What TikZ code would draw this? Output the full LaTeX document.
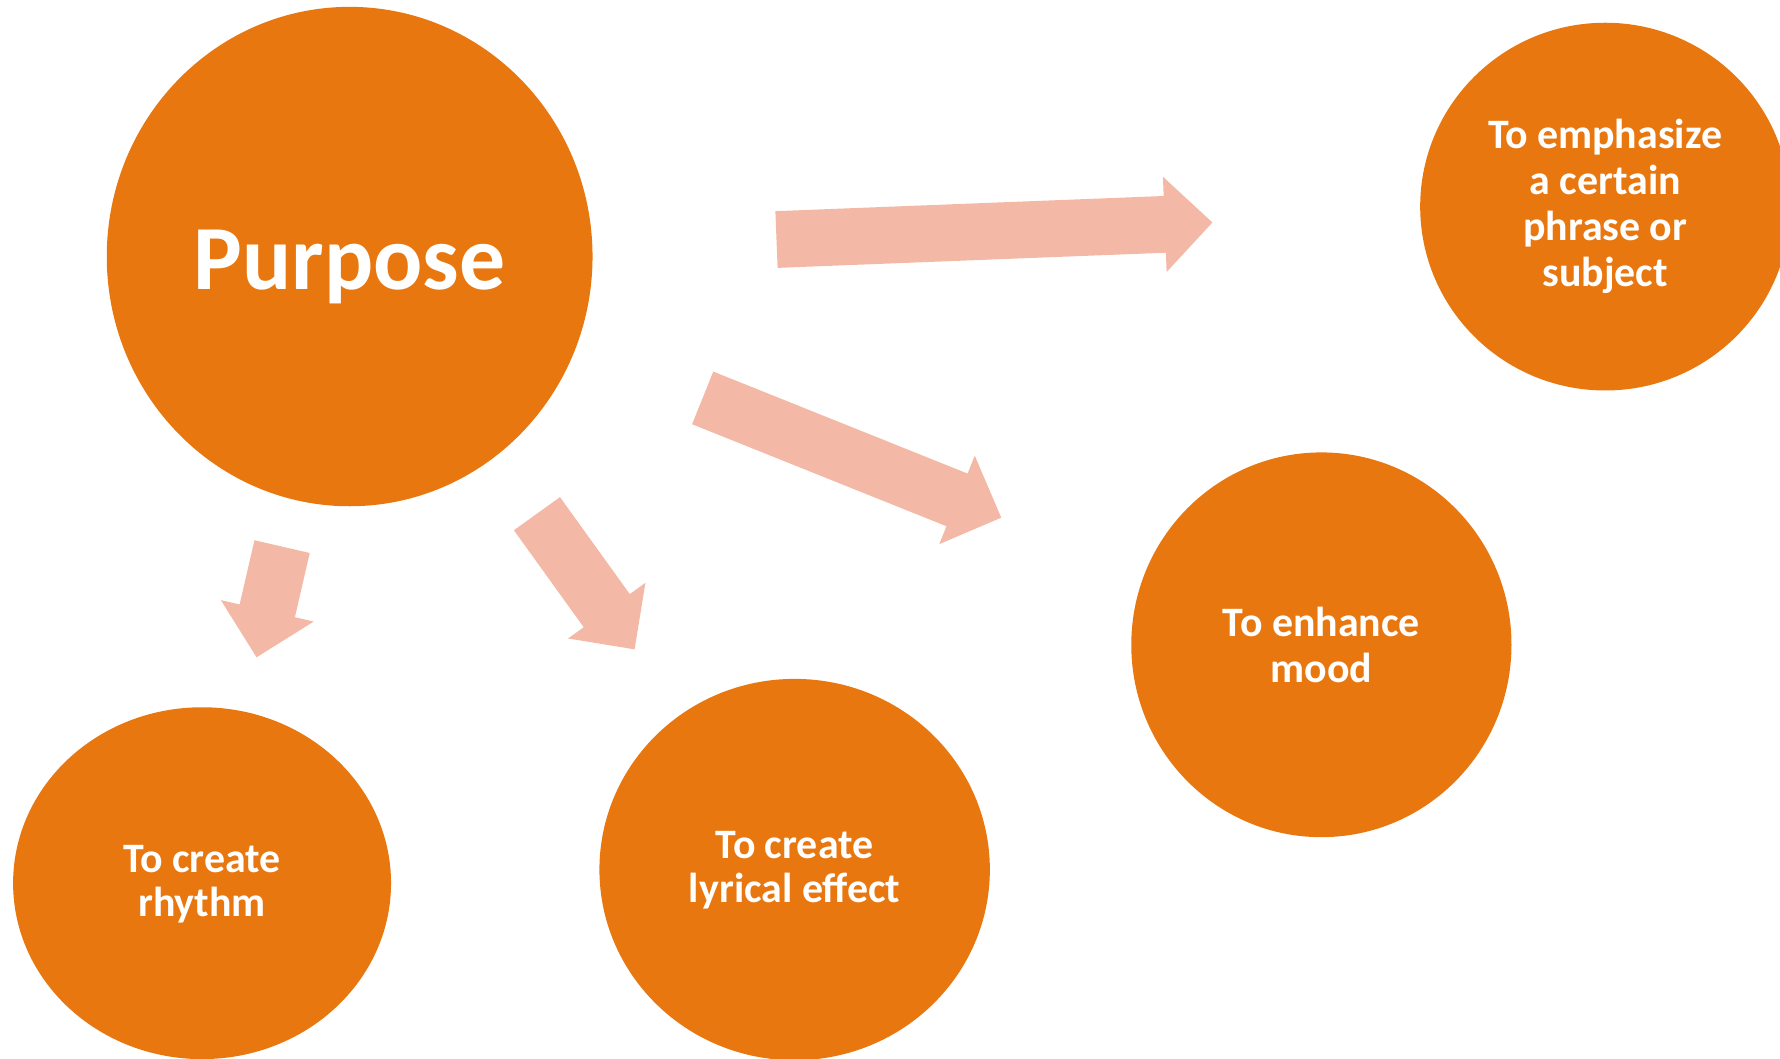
\documentclass[tikz,border=0pt]{standalone}
\usepackage{fontspec}
\setmainfont{Carlito}
\usepackage{tikz}
\usetikzlibrary{shapes.geometric,calc}

\definecolor{purporange}{HTML}{E9770F}
\definecolor{arrowpink}{HTML}{F3B9A6}

% block arrow from coordinate #1 to coordinate #2
\newcommand\purposearrow[2]{%
  \coordinate (#1-h) at ($(#2)!0.84cm!(#1)$);
  \fill[arrowpink] ($(#1)!0.5cm!-90:(#2)$) -- ($(#1-h)!0.5cm!90:(#1)$)
    -- ($(#1-h)!0.84cm!90:(#1)$) -- (#2) -- ($(#1-h)!0.84cm!-90:(#1)$)
    -- ($(#1-h)!0.5cm!-90:(#1)$) -- ($(#1)!0.5cm!90:(#2)$) -- cycle;}

\begin{document}
\begin{tikzpicture}[x=0.02cm,y=-0.02cm,
    bubble/.style={ellipse,fill=purporange,text=white,inner sep=0pt,align=center,
      font=\bfseries\fontsize{21}{23}\selectfont}]
        \useasboundingbox (0,0) rectangle (1568,932);

        % ---- the circles ------------------------------------
        \node[bubble,minimum width=8.56cm,minimum height=8.8cm,
              font=\bfseries\fontsize{46}{50}\selectfont] (purpose) at (308,226)
              {\raisebox{-5pt}[\height][\depth]{Purpose}};
        \node[bubble,minimum width=6.52cm,minimum height=6.48cm] (emph) at (1414,182)
              {To emphasize\\a certain\\phrase or\\subject};
        \node[bubble,minimum width=6.7cm,minimum height=6.78cm] (mood) at (1164,568)
              {To enhance\\mood};
        \node[bubble,minimum width=6.88cm,minimum height=6.72cm] (lyric) at (700,766)
              {\raisebox{-1pt}[\height][\depth]{To create}\\lyrical effect};
        \node[bubble,minimum width=6.66cm,minimum height=6.2cm] (rhythm) at (178,778)
              {\raisebox{-1pt}[\height][\depth]{To create}\\rhythm};

        % ---- block arrows between them ----------------------
        \coordinate (a1s) at (684,211);    \coordinate (a1e) at (1068,196);
        \coordinate (a2s) at (619,350.5);  \coordinate (a2e) at (882,456);
        \coordinate (a3s) at (473,452.5);  \coordinate (a3e) at (559,572);
        \coordinate (a4s) at (248.5,481.5); \coordinate (a4e) at (226,579);
        \purposearrow{a1s}{a1e}
        \purposearrow{a2s}{a2e}
        \purposearrow{a3s}{a3e}
        \purposearrow{a4s}{a4e}
\end{tikzpicture}
\end{document}
